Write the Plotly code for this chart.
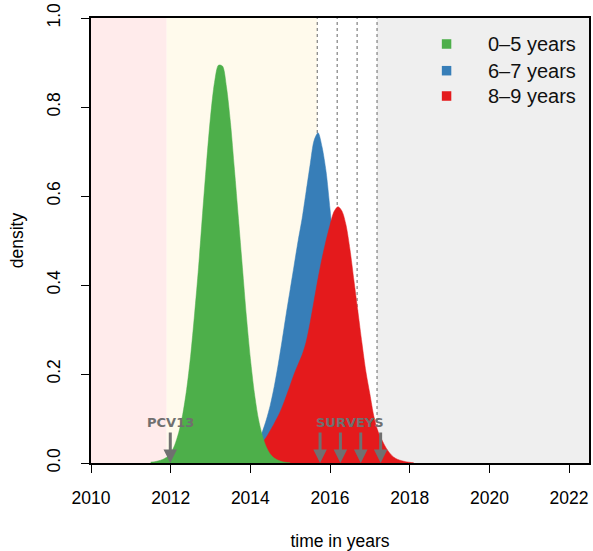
import plotly.graph_objects as go

# Estimated serotype-replacement timing densities by age group
years_green = [2011.5, 2011.6, 2011.7, 2011.8, 2011.9, 2012.0, 2012.1, 2012.2, 2012.3, 2012.4,
               2012.5, 2012.6, 2012.7, 2012.8, 2012.9, 2013.0, 2013.1, 2013.2, 2013.3, 2013.4,
               2013.5, 2013.6, 2013.7, 2013.8, 2013.9, 2014.0, 2014.1, 2014.2, 2014.3, 2014.4,
               2014.5, 2014.6, 2014.7, 2014.8, 2014.9, 2015.0]
dens_green = [0.002, 0.003, 0.005, 0.008, 0.013, 0.022, 0.040, 0.068, 0.108, 0.165,
              0.240, 0.335, 0.440, 0.560, 0.675, 0.778, 0.855, 0.894, 0.892, 0.845,
              0.765, 0.660, 0.550, 0.440, 0.330, 0.235, 0.158, 0.100, 0.062, 0.036,
              0.020, 0.011, 0.006, 0.003, 0.0015, 0.0005]

years_blue = [2013.6, 2013.7, 2013.8, 2013.9, 2014.0, 2014.1, 2014.2, 2014.3, 2014.4, 2014.5,
              2014.6, 2014.7, 2014.8, 2014.9, 2015.0, 2015.1, 2015.2, 2015.3, 2015.4, 2015.5,
              2015.6, 2015.7, 2015.8, 2015.9, 2016.0, 2016.1, 2016.2, 2016.3, 2016.4, 2016.5,
              2016.6, 2016.7, 2016.8, 2016.9, 2017.0, 2017.1, 2017.2]
dens_blue = [0.004, 0.007, 0.012, 0.018, 0.026, 0.036, 0.050, 0.070, 0.097, 0.130,
             0.172, 0.222, 0.277, 0.335, 0.390, 0.445, 0.500, 0.550, 0.610, 0.670,
             0.725, 0.742, 0.710, 0.655, 0.570, 0.480, 0.385, 0.295, 0.215, 0.150,
             0.100, 0.062, 0.037, 0.021, 0.011, 0.005, 0.002]

years_red = [2013.6, 2013.7, 2013.8, 2013.9, 2014.0, 2014.1, 2014.2, 2014.3, 2014.4, 2014.5,
             2014.6, 2014.7, 2014.8, 2014.9, 2015.0, 2015.1, 2015.2, 2015.3, 2015.4, 2015.5,
             2015.6, 2015.7, 2015.8, 2015.9, 2016.0, 2016.1, 2016.2, 2016.3, 2016.4, 2016.5,
             2016.6, 2016.7, 2016.8, 2016.9, 2017.0, 2017.1, 2017.2, 2017.3, 2017.4, 2017.5,
             2017.6, 2017.7, 2017.8, 2017.9, 2018.0, 2018.1]
dens_red = [0.003, 0.005, 0.008, 0.012, 0.018, 0.026, 0.035, 0.046, 0.058, 0.073,
            0.089, 0.106, 0.126, 0.150, 0.175, 0.200, 0.222, 0.243, 0.272, 0.315,
            0.365, 0.415, 0.460, 0.500, 0.535, 0.565, 0.576, 0.566, 0.535, 0.480,
            0.410, 0.340, 0.270, 0.205, 0.155, 0.105, 0.072, 0.052, 0.035, 0.022,
            0.013, 0.008, 0.005, 0.003, 0.0015, 0.0005]

group_labels = ["0\u20135 years", "6\u20137 years", "8\u20139 years"]
group_colors = ["#4DAF4A", "#377EB8", "#E41A1C"]

# Period boundaries (background bands)
period_pre = [2010.0, 2011.9]
period_post = [2011.9, 2015.68]
period_late = [2017.18, 2022.5]

survey_lines = [2015.68, 2016.18, 2016.68, 2017.18]
survey_arrows = [2015.75, 2016.26, 2016.77, 2017.27]
pcv13_intro = 2011.99

x_ticks = [2010, 2012, 2014, 2016, 2018, 2020, 2022]
y_ticks = [0.0, 0.2, 0.4, 0.6, 0.8, 1.0]

FONT = "Liberation Sans, Arial, Helvetica, sans-serif"
ANNOT_GRAY = "#707070"

fig = go.Figure()

# draw order: 6-7 years, 8-9 years, then 0-5 years on top
for xs, ys, idx in [(years_blue, dens_blue, 1), (years_red, dens_red, 2), (years_green, dens_green, 0)]:
    fig.add_trace(go.Scatter(
        x=xs, y=ys, mode="lines", fill="tozeroy",
        line=dict(color=group_colors[idx], width=0.5, shape="spline", smoothing=0.8),
        fillcolor=group_colors[idx], showlegend=False, hoverinfo="skip",
    ))

shapes = []
for (x0, x1), col in [(period_pre, "#FFEBEB"), (period_post, "#FFFAEC"), (period_late, "#EFEFEF")]:
    shapes.append(dict(type="rect", xref="x", yref="paper", x0=x0, x1=x1, y0=0, y1=1,
                       fillcolor=col, line=dict(width=0), layer="below"))
for xv in survey_lines:
    shapes.append(dict(type="line", xref="x", yref="paper", x0=xv, x1=xv, y0=0, y1=1,
                       line=dict(color="#8A8A8A", width=1.3, dash="dot"), layer="below"))

# legend: coloured squares and labels
leg_y = [0.9416, 0.8816, 0.8247]
annotations = []
for lab, col, yy in zip(group_labels, group_colors, leg_y):
    shapes.append(dict(type="rect", xref="paper", yref="paper",
                       x0=0.714 - 0.0095, x1=0.714 + 0.0095, y0=yy - 0.0107, y1=yy + 0.0107,
                       fillcolor=col, line=dict(width=0)))
    annotations.append(dict(x=0.794, y=yy, xref="paper", yref="paper", text=lab,
                            showarrow=False, xanchor="left", yanchor="middle",
                            font=dict(family=FONT, size=20, color="#111111")))

# event arrows
for xv in [pcv13_intro] + survey_arrows:
    annotations.append(dict(x=xv, y=0, xref="x", yref="y", ax=0, ay=-32, axref="pixel", ayref="pixel",
                            text="", showarrow=True, arrowhead=2, arrowsize=0.9, arrowwidth=3,
                            arrowcolor=ANNOT_GRAY))
annotations.append(dict(x=pcv13_intro, y=0.09, xref="x", yref="y", text="<b>PCV13</b>", showarrow=False,
                        xanchor="center", yanchor="middle",
                        font=dict(family="DejaVu Sans", size=13, color=ANNOT_GRAY)))
annotations.append(dict(x=(survey_arrows[0] + survey_arrows[-1]) / 2, y=0.09, xref="x", yref="y",
                        text="<b>SURVEYS</b>", showarrow=False, xanchor="center", yanchor="middle",
                        font=dict(family="DejaVu Sans", size=13, color=ANNOT_GRAY)))

fig.update_layout(
    width=593, height=551,
    margin=dict(l=91, r=2, t=18, b=88),
    plot_bgcolor="white", paper_bgcolor="white",
    font=dict(family=FONT, size=17.5, color="black"),
    shapes=shapes, annotations=annotations, showlegend=False,
    xaxis=dict(range=[2010, 2022.5], tickvals=x_ticks, ticks="outside", ticklen=8, tickwidth=1,
               tickcolor="black", showline=True, linecolor="black", linewidth=1.5, mirror=True,
               showgrid=False, zeroline=False, ticklabelstandoff=10,
               title=dict(text="time in years", standoff=28, font=dict(size=17.5))),
    yaxis=dict(range=[0, 1], tickvals=y_ticks, tickformat=".1f", ticks="outside", ticklen=8,
               tickwidth=1, tickcolor="black", showline=True, linecolor="black", linewidth=1.5,
               mirror=True, showgrid=False, zeroline=False, tickangle=-90, ticklabelstandoff=14,
               title=dict(text="density", standoff=16, font=dict(size=17.5))),
)

fig.write_html("out.html")
